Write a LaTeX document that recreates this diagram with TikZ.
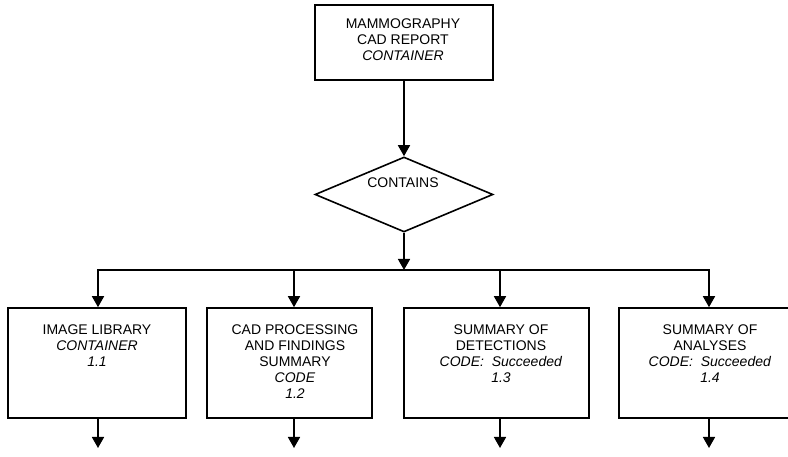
\documentclass[tikz,border=0pt]{standalone}
\usepackage{fontspec}
\setmainfont{Liberation Sans}
\usetikzlibrary{shapes.geometric, arrows.meta, positioning, calc}

\begin{document}
\begin{tikzpicture}[
    x=1pt, y=1pt,
    font=\fontsize{14}{16}\selectfont,
    box/.style={
        rectangle, draw=black,
        line width=1.6pt,
        inner sep=0pt
    },
    decision/.style={
        diamond, draw=black,
        line width=1.6pt,
        inner sep=0pt,
        minimum width=178pt,
        minimum height=75pt
    },
    txt/.style={
        align=center,
        inner sep=0pt,
        anchor=north
    },
    arr/.style={
        -{Triangle[length=11pt, width=12pt]},
        line width=1.6pt
    },
    bus/.style={
        line width=1.6pt,
        line cap=rect
    }
]

\useasboundingbox (0,0) rectangle (788,457);
\clip (0,0) rectangle (788,457);

% ==========================================
% ROOT AND RELATION
% ==========================================

\node[box, minimum width=178pt, minimum height=75pt] (report) at (404,414.5) {};
\node[txt] (report_txt) at (403,438)
{MAMMOGRAPHY\\CAD REPORT\\\textit{CONTAINER}};

\node[decision] (contains) at (404,262.5) {};
\node[txt] (contains_txt) at (403,279) {CONTAINS};

% ==========================================
% CHILD CONTAINERS
% ==========================================

\node[box, minimum width=178pt, minimum height=110pt] (library) at (97,94) {};
\node[txt] (library_txt) at (97,132)
{IMAGE LIBRARY\\\textit{CONTAINER}\\\textit{1.1}};

\node[box, minimum width=165pt, minimum height=110pt] (findings) at (289.5,94) {};
\node[txt] (findings_txt) at (295,132)
{CAD PROCESSING\\AND FINDINGS\\SUMMARY\\\textit{CODE}\\\textit{1.2}};

\node[box, minimum width=185pt, minimum height=110pt] (detections) at (496.5,94) {};
\node[txt] (detections_txt) at (501,132)
{SUMMARY OF\\DETECTIONS\\\textit{CODE:\ \ Succeeded}\\\textit{1.3}};

\node[box, minimum width=181pt, minimum height=110pt] (analyses) at (709.5,94) {};
\node[txt] (analyses_txt) at (710,132)
{SUMMARY OF\\ANALYSES\\\textit{CODE:\ \ Succeeded}\\\textit{1.4}};

% ==========================================
% CONNECTIONS
% ==========================================

\draw[arr] (report.south) -- (contains.north);

\coordinate (bus_mid) at (404,187);
\draw[arr] (contains.south) -- (bus_mid);

\coordinate (bus_1) at (98,187);
\coordinate (bus_2) at (294,187);
\coordinate (bus_3) at (500,187);
\coordinate (bus_4) at (709,187);
\draw[bus] (bus_1) -- (bus_4);

\draw[arr] (bus_1) -- (bus_1 |- library.north);
\draw[arr] (bus_2) -- (bus_2 |- findings.north);
\draw[arr] (bus_3) -- (bus_3 |- detections.north);
\draw[arr] (bus_4) -- (bus_4 |- analyses.north);

% open ends below the boxes
\coordinate (out_1) at (98,9);
\coordinate (out_2) at (294,9);
\coordinate (out_3) at (500,9);
\coordinate (out_4) at (709,9);

\draw[arr] (library.south -| out_1) -- (out_1);
\draw[arr] (findings.south -| out_2) -- (out_2);
\draw[arr] (detections.south -| out_3) -- (out_3);
\draw[arr] (analyses.south -| out_4) -- (out_4);

\end{tikzpicture}
\end{document}
